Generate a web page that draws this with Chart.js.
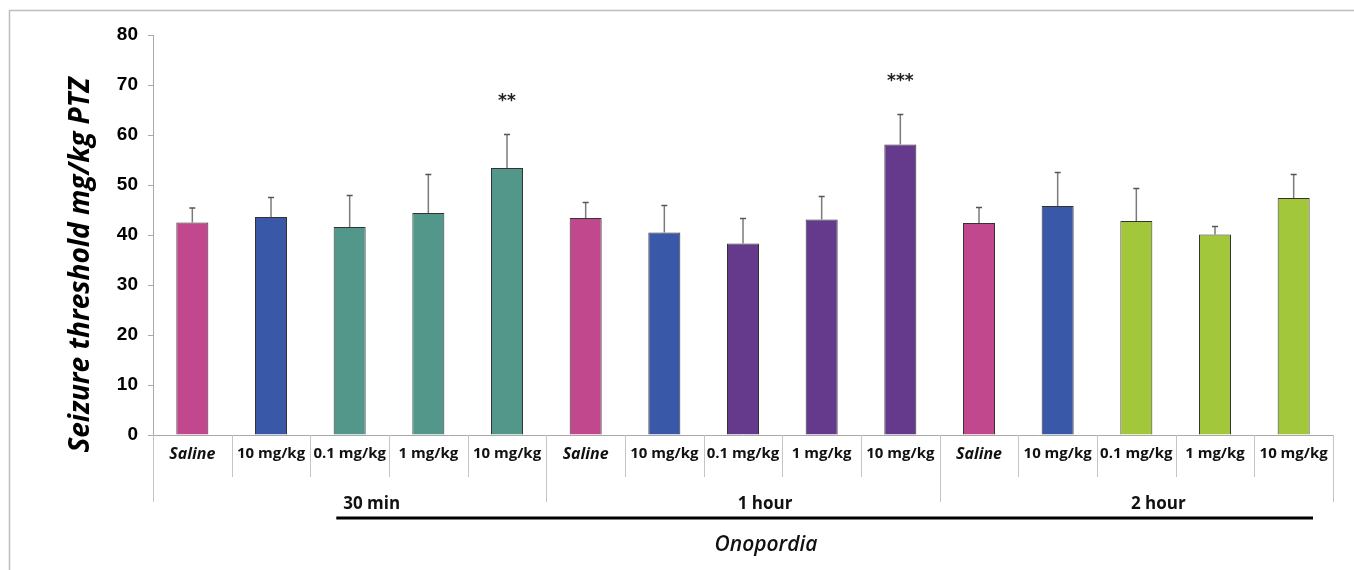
<!DOCTYPE html>
<html>
<head>
<meta charset="utf-8">
<script src="https://cdn.jsdelivr.net/npm/chart.js@4/dist/chart.umd.min.js"></script>
<style>
  html, body { margin: 0; padding: 0; background: #ffffff; }
  #wrap { width: 1354px; height: 570px; position: relative; }
</style>
</head>
<body>
<div id="wrap"><canvas id="c" width="1354" height="570"></canvas></div>
<script>
// ---- data ----
const categories = ['Saline', '10 mg/kg', '0.1 mg/kg', '1 mg/kg', '10 mg/kg',
                    'Saline', '10 mg/kg', '0.1 mg/kg', '1 mg/kg', '10 mg/kg',
                    'Saline', '10 mg/kg', '0.1 mg/kg', '1 mg/kg', '10 mg/kg'];
const groups = ['30 min', '1 hour', '2 hour'];
const meanValues = [42.5, 43.6, 41.6, 44.4, 53.4,
                    43.4, 40.5, 38.3, 43.1, 58.1,
                    42.4, 45.8, 42.8, 40.1, 47.4];
const errorTops  = [45.4, 47.5, 47.9, 52.1, 60.1,
                    46.5, 45.9, 43.3, 47.7, 64.1,
                    45.5, 52.5, 49.3, 41.7, 52.1];
const significance = ['', '', '', '', '**',
                      '', '', '', '', '***',
                      '', '', '', '', ''];
const yTicks = [0, 10, 20, 30, 40, 50, 60, 70, 80];
const yTitle = 'Seizure threshold mg/kg PTZ';
const xTitle = 'Onopordia';

// ---- styles ----
const PINK = '#C2488D', BLUE = '#3A58A8', TEAL = '#52978A', PURPLE = '#653A8C', GREEN = '#A3C73A';
const barColors = [PINK, BLUE, TEAL, TEAL, TEAL,
                   PINK, BLUE, PURPLE, PURPLE, PURPLE,
                   PINK, BLUE, GREEN, GREEN, GREEN];
const AXIS_GRAY = '#A8A8A8';
const LABEL_FONT = '"Open Sans", "Liberation Sans", sans-serif';

const decorPlugin = {
  id: 'decor',
  afterDatasetsDraw(chart) {
    const ctx = chart.ctx;
    const y = chart.scales.y;
    const meta = chart.getDatasetMeta(0);
    ctx.save();
    meta.data.forEach((bar, i) => {
      const yTop = y.getPixelForValue(errorTops[i]);
      const yBase = y.getPixelForValue(meanValues[i]);
      ctx.strokeStyle = '#7A7A7A';
      ctx.lineWidth = 1.5;
      ctx.beginPath();
      ctx.moveTo(bar.x, yBase);
      ctx.lineTo(bar.x, yTop);
      ctx.stroke();
      ctx.strokeStyle = '#555555';
      ctx.lineWidth = 1.5;
      ctx.beginPath();
      ctx.moveTo(bar.x - 3, yTop);
      ctx.lineTo(bar.x + 3, yTop);
      ctx.stroke();
      if (significance[i]) {
        ctx.fillStyle = '#222222';
        ctx.font = 'bold 17px "DejaVu Sans", sans-serif';
        ctx.textAlign = 'center';
        ctx.textBaseline = 'middle';
        ctx.fillText(significance[i], bar.x, yTop - 33);
      }
    });
    ctx.restore();
  },
  afterDraw(chart) {
    const ctx = chart.ctx;
    const x = chart.scales.x;
    const area = chart.chartArea;
    const n = categories.length;
    const cw = (x.right - x.left) / n;
    ctx.save();
    // category dividers
    ctx.strokeStyle = '#C4C4C4';
    ctx.lineWidth = 1;
    for (let i = 0; i <= n; i++) {
      const px = Math.round(x.left + i * cw) + 0.5;
      const bottom = (i % 5 === 0) ? area.bottom + 67 : area.bottom + 42;
      ctx.beginPath();
      ctx.moveTo(px, area.bottom);
      ctx.lineTo(px, bottom);
      ctx.stroke();
    }
    // group labels
    ctx.fillStyle = '#111111';
    ctx.font = 'bold 17px ' + LABEL_FONT;
    ctx.textAlign = 'center';
    ctx.textBaseline = 'middle';
    groups.forEach((g, gi) => {
      const cx = x.left + (gi * 5 + 2.5) * cw + 22;
      ctx.fillText(g, cx, area.bottom + 69);
    });
    // thick black underline
    ctx.strokeStyle = '#000000';
    ctx.lineWidth = 3;
    ctx.beginPath();
    ctx.moveTo(x.left + 2.33 * cw, area.bottom + 83);
    ctx.lineTo(x.right - 20, area.bottom + 83);
    ctx.stroke();
    // x title
    ctx.font = 'italic 600 21px ' + LABEL_FONT;
    ctx.fillText(xTitle, (x.left + x.right) / 2 + 23, area.bottom + 110);
    // y title
    ctx.save();
    ctx.translate(81, 265);
    ctx.rotate(-Math.PI / 2);
    ctx.font = 'italic bold 28px ' + LABEL_FONT;
    ctx.fillStyle = '#000000';
    ctx.fillText(yTitle, 0, 0);
    ctx.restore();
    // frame
    ctx.strokeStyle = '#BDBDBD';
    ctx.lineWidth = 1.5;
    ctx.beginPath();
    ctx.moveTo(9.5, 570);
    ctx.lineTo(9.5, 10.5);
    ctx.lineTo(1354, 10.5);
    ctx.stroke();
    ctx.restore();
  }
};

new Chart(document.getElementById('c'), {
  type: 'bar',
  data: {
    labels: categories,
    datasets: [{
      data: meanValues,
      backgroundColor: barColors,
      borderColor: '#333333',
      borderWidth: 1,
      barPercentage: 1.0,
      categoryPercentage: 0.407
    }]
  },
  options: {
    responsive: false,
    animation: false,
    devicePixelRatio: 1,
    layout: { padding: { top: 35, right: 21, left: 0, bottom: 0 } },
    plugins: { legend: { display: false }, tooltip: { enabled: false } },
    scales: {
      x: {
        afterFit(scale) { scale.height = 135; },
        grid: { display: false, drawTicks: false },
        border: { display: true, color: AXIS_GRAY, width: 1 },
        ticks: {
          autoSkip: false,
          maxRotation: 0,
          minRotation: 0,
          padding: 10,
          color: '#111111',
          font: (c) => (c.index % 5 === 0)
            ? { family: LABEL_FONT, size: 16, weight: 'bold', style: 'italic' }
            : { family: LABEL_FONT, size: 15, weight: 'bold' }
        }
      },
      y: {
        min: 0,
        max: 80,
        afterFit(scale) { scale.width = 153; },
        afterBuildTicks(scale) { scale.ticks = yTicks.map(v => ({ value: v })); },
        grid: { drawOnChartArea: false, drawTicks: true, tickLength: 5, color: AXIS_GRAY },
        border: { display: true, color: AXIS_GRAY, width: 1 },
        ticks: {
          padding: 10,
          color: '#000000',
          font: { family: '"Liberation Sans", Arial, sans-serif', size: 19, weight: 'bold' }
        }
      }
    }
  },
  plugins: [decorPlugin]
});
</script>
</body>
</html>
